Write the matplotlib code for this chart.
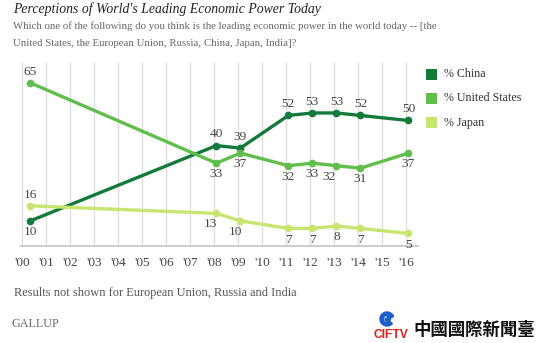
import matplotlib
matplotlib.use("Agg")
import matplotlib.pyplot as plt
from matplotlib.patches import Rectangle, Wedge

# Survey dates (decimal years) and percentages
dates = [2000.35, 2008.1, 2009.1, 2011.1, 2012.1, 2013.1, 2014.1, 2016.1]
china = [10, 40, 39, 52, 53, 53, 52, 50]
united_states = [65, 33, 37, 32, 33, 32, 31, 37]
japan = [16, 13, 10, 7, 7, 8, 7, 5]

series_names = ["% China", "% United States", "% Japan"]
series_colors = ["#137a3a", "#60bf4c", "#c6e66f"]

tick_years = list(range(2000, 2017))
tick_labels = ["'%02d" % (y - 2000) for y in tick_years]

# label placement for each point: +1 above, -1 below, plus horizontal nudges (px)
china_pos = [-1, 1, 1, 1, 1, 1, 1, 1]
us_pos = [1, -1, -1, -1, -1, -1, -1, -1]
japan_pos = [1, -1, -1, -1, -1, -1, -1, -1]
china_dx = [0, 0, 0, 0, 0, 0, 0, 0]
us_dx = [0, 0, 0, 0, 0, -7, 0, 0]
japan_dx = [0, -6, -5, 0, 0, 0, 0, 0]

W, H = 541, 343
fig = plt.figure(figsize=(W / 100, H / 100), dpi=100)
renderer = fig.canvas.get_renderer()

SERIF = "Liberation Serif"


def px_x(x):
    return x / W


def px_y(y):
    return 1 - y / H


def fit_text(x, y, s, width, **kw):
    t = fig.text(px_x(x), px_y(y), s, fontsize=10, **kw)
    bb = t.get_window_extent(renderer)
    t.set_fontsize(10 * width / bb.width)
    return t


# header
fit_text(13, 9, "Perceptions of World's Leading Economic Power Today", 309,
         family=SERIF, style="italic", color="#222222", va="center")
sub = fit_text(13, 26, "Which one of the following do you think is the leading economic power in the world today -- [the",
               422, family=SERIF, color="#666666", va="center")
fig.text(px_x(13), px_y(43), "United States, the European Union, Russia, China, Japan, India]?",
         fontsize=sub.get_fontsize(), family=SERIF, color="#666666", va="center")

# plot area
ax = fig.add_axes([px_x(20.7), px_y(246), (418 - 20.7) / W, (246 - 62) / H])
ax.set_xlim(1999.95, 2016.5)
ax.set_ylim(0, 73.3)
for s in ax.spines.values():
    s.set_visible(False)
ax.axhline(0, color="#c8c8c8", lw=1.3, zorder=1, clip_on=False)
for yr in tick_years:
    ax.axvline(yr, color="#e0e0e0", lw=1.0, zorder=0)
ax.set_yticks([])
ax.set_xticks(tick_years)
ax.set_xticklabels(tick_labels, family=SERIF, fontsize=9.6, color="#444444")
ax.tick_params(axis="x", length=0, pad=8)

all_series = [china, united_states, japan]
all_pos = [china_pos, us_pos, japan_pos]
all_dx = [china_dx, us_dx, japan_dx]
for vals, col, pos, dxs in zip(all_series, series_colors, all_pos, all_dx):
    ax.plot(dates, vals, color=col, lw=2.4, marker="o", ms=4.5, zorder=3,
            solid_capstyle="round")
    for x, v, p, dx in zip(dates, vals, pos, dxs):
        ax.annotate(str(v), (x, v), xytext=(dx * 0.72, 8 * p), textcoords="offset points",
                    ha="center", va="center", family=SERIF, fontsize=9.6,
                    color="#444444", zorder=4)

# legend: one common size, set by the longest entry
probe = fit_text(444, 98, "% United States", 78, family=SERIF)
legend_size = probe.get_fontsize()
probe.remove()
for name, col, yc in zip(series_names, series_colors, [74, 98, 122.5]):
    fig.patches.append(Rectangle((px_x(425.7), px_y(yc + 5.5)), 11 / W, 11 / H,
                                 transform=fig.transFigure, facecolor=col,
                                 edgecolor="none", figure=fig))
    fig.text(px_x(444), px_y(yc), name, family=SERIF, fontsize=legend_size,
             color="#333333", va="center")

# footer
fit_text(14, 293, "Results not shown for European Union, Russia and India", 283,
         family=SERIF, color="#555555", va="center")
fit_text(12, 324, "GALLUP", 48, family=SERIF, color="#666666", va="center")
fit_text(413, 330, "中國國際新聞臺", 122,
         family=["Noto Sans CJK TC", "DejaVu Sans"], weight="bold",
         color="#111111", va="center")
fit_text(373, 335, "CIFTV", 35, family="Liberation Sans", weight="bold",
         color="#e0201b", va="center")

# swirl emblem
cx, cy, r = 387, 319, 7
lax = fig.add_axes([px_x(cx - r - 1), px_y(cy + r + 1), (2 * r + 2) / W, (2 * r + 2) / H])
lax.set_xlim(-r - 1, r + 1)
lax.set_ylim(-r - 1, r + 1)
lax.set_aspect("equal")
lax.axis("off")
lax.add_patch(Wedge((0, 0), r, 20, 320, width=3.4, color="#1c5fc9"))
lax.add_patch(Wedge((0.8, 0.5), 2.8, 180, 470, width=1.9, color="#1c5fc9"))

fig.savefig("out.png", dpi=100)
